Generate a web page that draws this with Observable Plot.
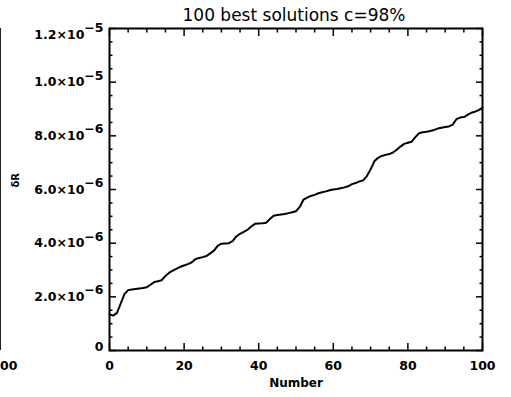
<!DOCTYPE html>
<html><head><meta charset="utf-8">
<script src="https://cdn.jsdelivr.net/npm/d3@7"></script>
<script src="https://cdn.jsdelivr.net/npm/@observablehq/plot@0.6"></script>
<style>
html,body{margin:0;padding:0;background:#fff;}
#wrap{position:relative;width:511px;height:397px;overflow:hidden;}
#prev{position:absolute;left:0;top:28px;height:322px;border-left:1.5px solid #222;}
#prevlab{position:absolute;left:0;top:359px;font:bold 12.5px "DejaVu Sans";line-height:14px;}
#chart{position:absolute;left:0;top:0;}
</style></head>
<body><div id="wrap"><div id="prev"></div><div id="prevlab">00</div><div id="chart"></div></div>
<script>
const title = "100 best solutions c=98%";
const xLabel = "Number";
const yLabel = "δR";
const xMajorTicks = [0, 20, 40, 60, 80, 100];
const xMinorTicks = [5, 10, 15, 25, 30, 35, 45, 50, 55, 65, 70, 75, 85, 90, 95];
// y values in units of 1e-6
const yMajorTicks = [0, 2, 4, 6, 8, 10, 12];
const yMinorTicks = [0.5, 1, 1.5, 2.5, 3, 3.5, 4.5, 5, 5.5, 6.5, 7, 7.5, 8.5, 9, 9.5, 10.5, 11, 11.5];
const yTickLabels = ["0", "2.0×10^−6", "4.0×10^−6", "6.0×10^−6", "8.0×10^−6", "1.0×10^−5", "1.2×10^−5"];
// δR of the solutions, ranked, in units of 1e-6
const deltaR = [
 1.35, 1.30, 1.40, 1.75, 2.10, 2.25, 2.27, 2.29, 2.31, 2.33,
 2.36, 2.45, 2.55, 2.58, 2.62, 2.78, 2.90, 2.98, 3.05, 3.12,
 3.17, 3.22, 3.28, 3.40, 3.45, 3.48, 3.52, 3.62, 3.72, 3.90,
 3.98, 3.99, 4.00, 4.08, 4.25, 4.35, 4.42, 4.50, 4.62, 4.72,
 4.73, 4.74, 4.76, 4.90, 5.02, 5.05, 5.07, 5.09, 5.12, 5.15,
 5.19, 5.35, 5.62, 5.70, 5.76, 5.80, 5.86, 5.90, 5.93, 5.97,
 6.00, 6.02, 6.05, 6.08, 6.12, 6.20, 6.24, 6.30, 6.34, 6.50,
 6.75, 7.05, 7.18, 7.25, 7.29, 7.32, 7.38, 7.48, 7.60, 7.70,
 7.74, 7.78, 7.95, 8.10, 8.13, 8.15, 8.18, 8.22, 8.27, 8.30,
 8.33, 8.35, 8.42, 8.62, 8.68, 8.70, 8.78, 8.86, 8.90, 8.96,
 9.05
];
const data = deltaR.map((v, i) => ({number: i, dR: v}));

const tickFmt = d => yTickLabels[yMajorTicks.indexOf(d)];
const chart = Plot.plot({
  width: 511, height: 397,
  marginLeft: 109, marginRight: 29, marginTop: 28, marginBottom: 47,
  style: {fontFamily: "DejaVu Sans", background: "transparent", color: "#000"},
  x: {domain: [0, 100]},
  y: {domain: [0, 12]},
  marks: [
    // labels
    Plot.axisX({anchor: "bottom", ticks: xMajorTicks, tickSize: 0, tickPadding: 11, fontSize: 12.5, fontWeight: "bold",
      label: null}),
    Plot.axisX({anchor: "bottom", ticks: [], tickSize: 0, fontSize: 12, fontWeight: "bold",
      label: xLabel, labelAnchor: "center", labelArrow: "none", labelOffset: 36}),
    Plot.axisY({anchor: "left", ticks: yMajorTicks, tickSize: 0, tickPadding: 6, tickFormat: tickFmt, fontSize: 12.5, fontWeight: "bold",
      label: null}),
    Plot.text([yLabel], {frameAnchor: "left", rotate: -90, dx: -94, dy: -2, fontSize: 10, fontWeight: "bold", text: d => d}),
    // inward ticks, all four sides
    Plot.axisX({anchor: "bottom", ticks: xMajorTicks, tickSize: -7, tickFormat: () => "", strokeWidth: 1.5, label: null}),
    Plot.axisX({anchor: "bottom", ticks: xMinorTicks, tickSize: -3.5, tickFormat: () => "", strokeWidth: 1.5, label: null}),
    Plot.axisX({anchor: "top", ticks: xMajorTicks, tickSize: -7, tickFormat: () => "", strokeWidth: 1.5, label: null}),
    Plot.axisX({anchor: "top", ticks: xMinorTicks, tickSize: -3.5, tickFormat: () => "", strokeWidth: 1.5, label: null}),
    Plot.axisY({anchor: "left", ticks: yMajorTicks, tickSize: -7, tickFormat: () => "", strokeWidth: 1.5, label: null}),
    Plot.axisY({anchor: "left", ticks: yMinorTicks, tickSize: -3.5, tickFormat: () => "", strokeWidth: 1.5, label: null}),
    Plot.axisY({anchor: "right", ticks: yMajorTicks, tickSize: -7, tickFormat: () => "", strokeWidth: 1.5, label: null}),
    Plot.axisY({anchor: "right", ticks: yMinorTicks, tickSize: -3.5, tickFormat: () => "", strokeWidth: 1.5, label: null}),
    Plot.frame({strokeWidth: 2}),
    Plot.line(data, {x: "number", y: "dR", strokeWidth: 2, stroke: "#000"}),
    Plot.text([title], {frameAnchor: "top", lineAnchor: "bottom", dy: -8, dx: -2, fontSize: 17, text: d => d})
  ]
});
document.getElementById("chart").appendChild(chart);

// superscript exponents in y tick labels; end labels kept inside the axis range
d3.select(chart).selectAll('g[aria-label="y-axis tick label"] text').each(function () {
  const t = d3.select(this);
  const s = t.text();
  if (s.includes("^")) {
    const [m, e] = s.split("^");
    const top = e === "−5" && m.startsWith("1.2");
    t.text(null).attr("y", top ? "10px" : "4px");
    t.append("tspan").text(m);
    t.append("tspan").attr("dy", "-6.5px").text(e);
  } else {
    t.attr("y", "0px");
  }
});
</script>
</body></html>
